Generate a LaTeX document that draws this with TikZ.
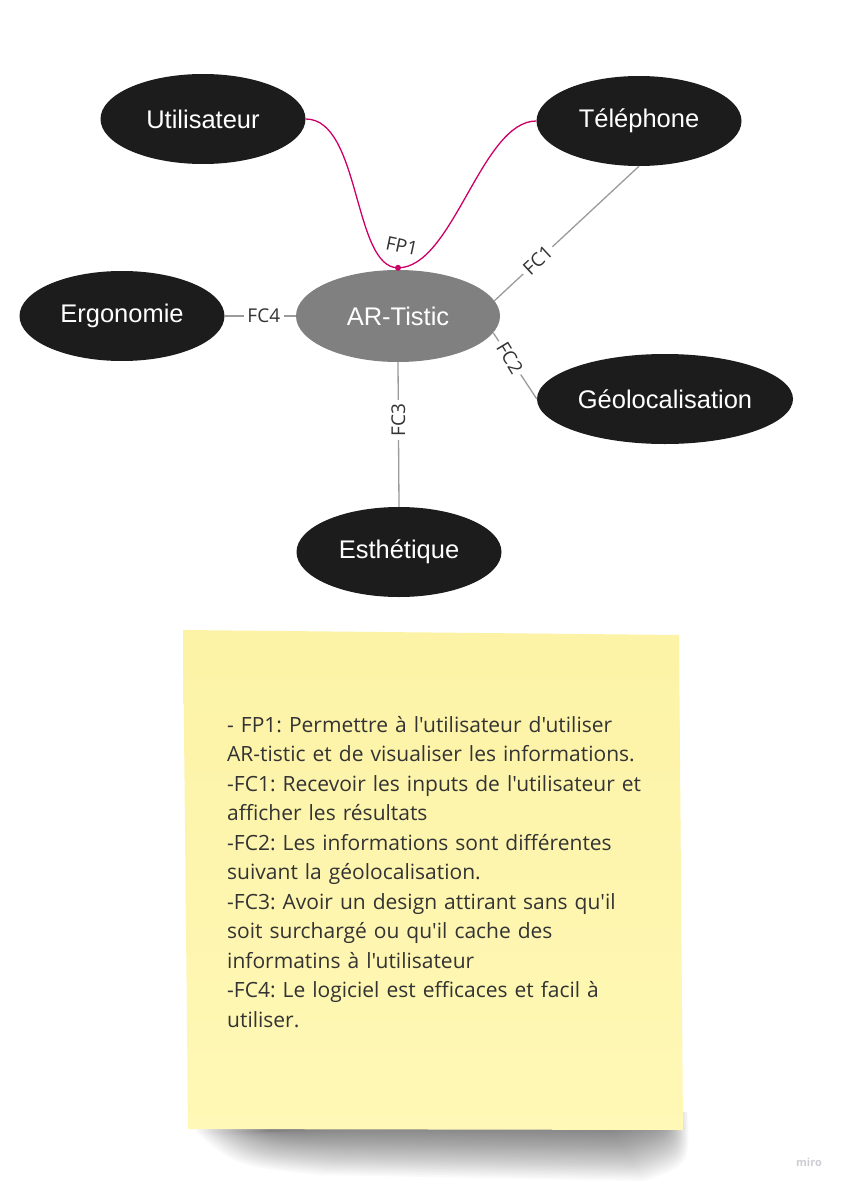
\documentclass[tikz,border=0pt]{standalone}
\usepackage{fontspec}
\setmainfont{Open Sans}
\newfontfamily\arialfont{Liberation Sans}
\newfontfamily\notefont{Open Sans}[Ligatures=TeXOff]
\usetikzlibrary{positioning,shapes.geometric}
\frenchspacing

\definecolor{bubblefill}{RGB}{28,28,28}
\definecolor{hubgrey}{RGB}{128,128,128}
\definecolor{linkgrey}{RGB}{155,155,155}
\definecolor{fpred}{RGB}{204,0,102}
\definecolor{labelgrey}{RGB}{51,51,51}
\definecolor{notetop}{RGB}{252,243,166}
\definecolor{notebottom}{RGB}{255,248,182}
\definecolor{brandgrey}{RGB}{205,205,212}

\begin{document}
\begin{tikzpicture}[x=1pt,y=-1pt,
  bubble/.style={ellipse, fill=bubblefill, text=white, inner sep=0pt,
    minimum width=205pt, minimum height=90pt,
    font=\arialfont\fontsize{25.5pt}{25.5pt}\selectfont},
  link/.style={draw=linkgrey, line width=1.3pt},
  linklabel/.style={fill=white, text=labelgrey, inner sep=3.5pt,
    font=\fontsize{19pt}{19pt}\selectfont}]
\useasboundingbox[fill=white] (0,0) rectangle (843,1185);

% bubbles
\node[bubble] (util) at (203,119) {Utilisateur};
\node[bubble] (tel) at (639,121) {Téléphone};
\node[bubble, fill=hubgrey, minimum width=204pt, minimum height=92pt] (hub) at (398,316) {AR-Tistic};
\node[bubble] (ergo) at (122,316) {Ergonomie};
\node[bubble, minimum width=256pt] (geo) at (665,399) {Géolocalisation};
\node[bubble] (esth) at (399,552) {Esthétique};

% contraintes
\draw[link] (hub.9) -- node[linklabel, pos=0.3, rotate=43] (fc1) {FC1} (tel.south);
\draw[link] (hub.-10) -- node[linklabel, pos=0.38, rotate=-59] (fc2) {FC2} (geo.west);
\draw[link] (hub.south) -- node[linklabel, pos=0.4, rotate=90] (fc3) {FC3} (esth.north);
\draw[link] (ergo.east) -- node[linklabel, pos=0.55] (fc4) {FC4} (hub.west);

% fonction principale
\coordinate (fp1) at ([yshift=2pt]hub.north);
\draw[fpred, line width=1.3pt] (util.east) .. controls +(55,0) and +(-45,0) .. (fp1)
  .. controls +(55,0) and +(-55,0) .. (tel.west);
\fill[fpred] (fp1) circle (3pt);
\node[text=labelgrey, rotate=-12, font=\fontsize{19pt}{19pt}\selectfont] (fp1label) at (402,246) {FP1};

% post-it
\foreach \k in {0,...,24}
  \fill[black, opacity=0.025] (196+3*\k,1112) -- (688-1.2*\k,1112)
    .. controls (690-1.4*\k,1165-2*\k) .. (645-1.5*\k,1181-2.2*\k) -- (320+2*\k,1175-2*\k)
    .. controls (235+3*\k,1166-1.5*\k) .. (196+3*\k,1132) -- cycle;
\shade[top color=notetop, bottom color=notebottom] (183,630) -- (679,635) -- (683,1130) -- (188,1129) -- cycle;
\node[anchor=base west, inner sep=0pt, text width=460pt, align=left, text=labelgrey,
  font=\notefont\fontsize{21pt}{29.5pt}\selectfont] (note) at (227,732)
  {- FP1: Permettre à l'utilisateur d'utiliser\\
   AR-tistic et de visualiser les informations.\\
   -FC1: Recevoir les inputs de l'utilisateur et\\
   afficher les résultats\\
   -FC2: Les informations sont différentes\\
   suivant la géolocalisation.\\
   -FC3: Avoir un design attirant sans qu'il\\
   soit surchargé ou qu'il cache des\\
   informatins à l'utilisateur\\
   -FC4: Le logiciel est efficaces et facil à\\
   utiliser.};

\node[text=brandgrey, font=\bfseries\fontsize{11pt}{11pt}\selectfont] (brand) at (809,1162) {miro};
\end{tikzpicture}
\end{document}
